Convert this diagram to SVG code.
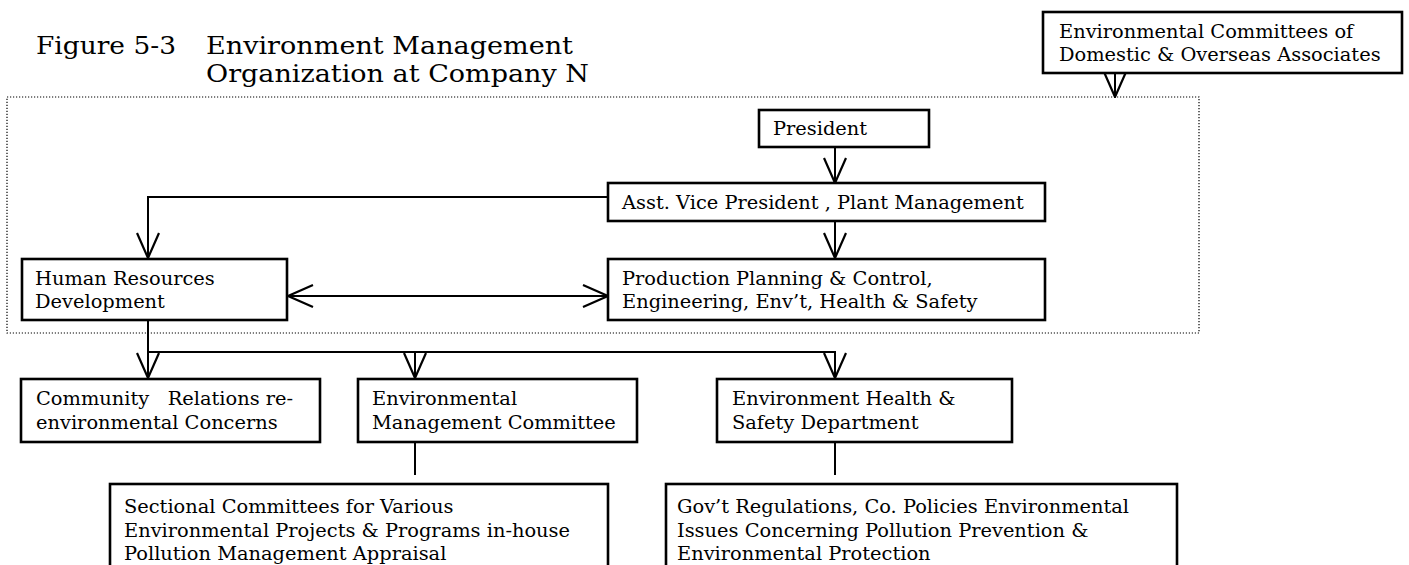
<svg xmlns="http://www.w3.org/2000/svg" width="1409" height="565" viewBox="0 0 1409 565">
  <defs>
    <style>
      .box { fill: #fff; stroke: #000; stroke-width: 2.6; }
      .lbl { font-family: "DejaVu Serif", "Liberation Serif", serif; font-size: 19.4px; fill: #000; }
      .title { font-family: "DejaVu Serif", "Liberation Serif", serif; font-size: 23.5px; fill: #000; }
      .wire { fill: none; stroke: #000; stroke-width: 2; }
      .frame { fill: none; stroke: #000; stroke-width: 1.2; stroke-dasharray: 1.2 1.8; }
    </style>
    <marker id="vhead" viewBox="0 0 27 24" refX="26" refY="12" markerWidth="27" markerHeight="24" markerUnits="userSpaceOnUse" orient="auto-start-reverse">
      <path d="M1,1 L26,12 L1,23" fill="none" stroke="#000" stroke-width="2.2"/>
    </marker>
  </defs>
  <rect width="1409" height="565" fill="#fff"/>

  <!-- heading: figure number plus a two-line caption -->
  <g id="heading">
    <text class="title" x="36" y="54" textLength="140" lengthAdjust="spacingAndGlyphs">Figure 5-3</text>
    <text class="title" x="206" y="54" textLength="367" lengthAdjust="spacingAndGlyphs">Environment Management</text>
    <text class="title" x="206" y="82" textLength="383" lengthAdjust="spacingAndGlyphs">Organization at Company N</text>
  </g>

  <!-- dotted frame around the plant organisation -->
  <rect class="frame" x="7" y="97" width="1192" height="236"/>

  <g id="connectors">
    <line class="wire" x1="1115" y1="68" x2="1115" y2="97" marker-end="url(#vhead)"/>
    <line class="wire" x1="835" y1="143" x2="835" y2="183" marker-end="url(#vhead)"/>
    <polyline class="wire" points="608,197 148,197 148,258" marker-end="url(#vhead)"/>
    <line class="wire" x1="835" y1="218" x2="835" y2="258" marker-end="url(#vhead)"/>
    <line class="wire" x1="288" y1="296" x2="608" y2="296" marker-start="url(#vhead)" marker-end="url(#vhead)"/>
    <line class="wire" x1="148" y1="315" x2="148" y2="378" marker-end="url(#vhead)"/>
    <polyline class="wire" points="148,352 835,352 835,378" marker-end="url(#vhead)"/>
    <line class="wire" x1="415" y1="352" x2="415" y2="378" marker-end="url(#vhead)"/>
    <line class="wire" x1="415" y1="437" x2="415" y2="475"/>
    <line class="wire" x1="835" y1="437" x2="835" y2="475"/>
  </g>

  <g id="env-committees">
    <rect class="box" x="1043" y="12" width="359" height="61"/>
    <text class="lbl" x="1059" y="38">Environmental Committees of</text>
    <text class="lbl" x="1059" y="61">Domestic &amp; Overseas Associates</text>
  </g>

  <g id="president">
    <rect class="box" x="759" y="110" width="170" height="37"/>
    <text class="lbl" x="773" y="135">President</text>
  </g>

  <g id="asst-vp">
    <rect class="box" x="608" y="183" width="437" height="38"/>
    <text class="lbl" x="622" y="209">Asst. Vice President , Plant Management</text>
  </g>

  <g id="human-resources">
    <rect class="box" x="22" y="259" width="265" height="61"/>
    <text class="lbl" x="35" y="285">Human Resources</text>
    <text class="lbl" x="35" y="308">Development</text>
  </g>

  <g id="production">
    <rect class="box" x="608" y="259" width="437" height="61"/>
    <text class="lbl" x="622" y="285">Production Planning &amp; Control,</text>
    <text class="lbl" x="622" y="308">Engineering, Env’t, Health &amp; Safety</text>
  </g>

  <g id="community">
    <rect class="box" x="21" y="379" width="299" height="63"/>
    <text class="lbl" x="36" y="405" xml:space="preserve">Community   Relations re-</text>
    <text class="lbl" x="36" y="429">environmental Concerns</text>
  </g>

  <g id="env-mgmt-committee">
    <rect class="box" x="358" y="379" width="279" height="63"/>
    <text class="lbl" x="372" y="405">Environmental</text>
    <text class="lbl" x="372" y="429">Management Committee</text>
  </g>

  <g id="ehs-department">
    <rect class="box" x="717" y="379" width="295" height="63"/>
    <text class="lbl" x="732" y="405">Environment Health &amp;</text>
    <text class="lbl" x="732" y="429">Safety Department</text>
  </g>

  <g id="sectional-committees">
    <rect class="box" x="110" y="484" width="498" height="90"/>
    <text class="lbl" x="124" y="513">Sectional Committees for Various</text>
    <text class="lbl" x="124" y="537">Environmental Projects &amp; Programs in-house</text>
    <text class="lbl" x="124" y="560">Pollution Management Appraisal</text>
  </g>

  <g id="gov-regulations">
    <rect class="box" x="666" y="484" width="511" height="90"/>
    <text class="lbl" x="677" y="513">Gov’t Regulations, Co. Policies Environmental</text>
    <text class="lbl" x="677" y="537">Issues Concerning Pollution Prevention &amp;</text>
    <text class="lbl" x="677" y="560">Environmental Protection</text>
  </g>
</svg>
